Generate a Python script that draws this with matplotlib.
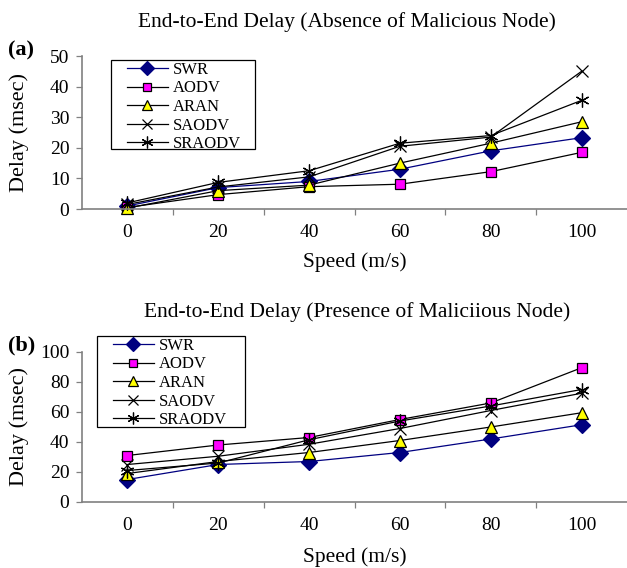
import matplotlib
matplotlib.use("Agg")
import matplotlib.pyplot as plt
from matplotlib.patches import Rectangle
import numpy as np

plt.rcParams['font.family'] = ['Liberation Serif', 'DejaVu Serif']

# datos
velocidades = [0, 20, 40, 60, 80, 100]
protocolos = ['SWR', 'AODV', 'ARAN', 'SAODV', 'SRAODV']

# (a) sin nodo malicioso
swr_a = [1.0, 7.0, 9.0, 13.0, 19.0, 23.3]
aodv_a = [0.5, 4.7, 7.3, 8.1, 12.2, 18.5]
aran_a = [0.3, 6.0, 7.8, 15.0, 21.5, 28.5]
saodv_a = [1.5, 7.2, 10.5, 20.5, 23.5, 45.0]
sraodv_a = [2.0, 8.7, 12.5, 21.5, 24.0, 35.5]

# (b) con nodo malicioso
swr_b = [15.0, 25.0, 27.0, 33.0, 42.0, 51.5]
aodv_b = [31.0, 38.0, 43.0, 55.0, 66.0, 89.5]
aran_b = [19.0, 27.0, 33.0, 41.0, 50.0, 59.5]
saodv_b = [25.0, 30.5, 38.5, 49.0, 61.0, 72.5]
sraodv_b = [21.0, 26.0, 41.5, 54.0, 64.0, 75.0]

estilos = {
    'SWR': dict(color='#000080', marker='D', markersize=8.5, mfc='#000080', mec='#000080'),
    'AODV': dict(color='black', marker='s', markersize=7.5, mfc='#FF00FF', mec='black'),
    'ARAN': dict(color='black', marker='^', markersize=8.5, mfc='#FFFF00', mec='black'),
    'SAODV': dict(color='black', marker='x', markersize=9, mfc='none', mec='black'),
    'SRAODV': dict(color='black', marker=(6, 2, 0), markersize=10, mfc='none', mec='black'),
}

fig = plt.figure(figsize=(6.27, 5.68), dpi=100)
W, H = 627, 568


def caja(x0, y0, x1, y1):
    # convierte pixeles (origen arriba-izquierda) a coordenadas de figura
    return [x0 / W, 1 - y1 / H, (x1 - x0) / W, (y1 - y0) / H]


def dibujar(ax, series, ymax, paso, marco):
    x = np.arange(len(velocidades))
    for nombre, valores in zip(protocolos, series):
        ax.plot(x, valores, lw=0.9, mew=0.9, label=nombre, **estilos[nombre])
    ax.set_xlim(-0.5, len(velocidades) - 0.5)
    ax.set_ylim(0, ymax)
    ax.set_yticks(np.arange(0, ymax + 1, paso))
    ax.set_xticks(x)
    ax.set_xticklabels([str(v) for v in velocidades])
    ax.set_xticks(x[:-1] + 0.5, minor=True)
    ax.tick_params(axis='x', which='major', length=0, pad=11, labelsize=14)
    ax.tick_params(axis='x', which='minor', length=4, width=0.9, color='#808080', direction='out')
    ax.tick_params(axis='y', length=4, width=0.9, color='#808080', direction='out', pad=5, labelsize=14)
    for lado in ['top', 'right']:
        ax.spines[lado].set_visible(False)
    for lado in ['left', 'bottom']:
        ax.spines[lado].set_color('#808080')
        ax.spines[lado].set_linewidth(1.2)
    for l in ax.lines:
        l.set_clip_on(False)

    # leyenda sin marco y un rectangulo propio para el recuadro
    x0, y0, x1, y1 = marco
    ax.legend(loc='upper left', bbox_to_anchor=((x0 + 16) / W, 1 - (y0 + 2) / H),
              bbox_transform=fig.transFigure, fontsize=12, frameon=False,
              borderpad=0, labelspacing=0.15, handlelength=2.45, handletextpad=0.3,
              borderaxespad=0, markerscale=0.85)
    fig.patches.append(Rectangle((x0 / W, 1 - y1 / H), (x1 - x0) / W, (y1 - y0) / H,
                                 transform=fig.transFigure, fill=False,
                                 edgecolor='black', linewidth=0.9))


ax1 = fig.add_axes(caja(82, 56, 627, 209))
dibujar(ax1, [swr_a, aodv_a, aran_a, saodv_a, sraodv_a], 50, 10, (111, 60, 255, 149))

ax2 = fig.add_axes(caja(82, 352, 627, 502))
dibujar(ax2, [swr_b, aodv_b, aran_b, saodv_b, sraodv_b], 100, 20, (97, 336, 245, 427))

# titulos y etiquetas
fig.text(347 / W, 1 - 22 / H, 'End-to-End Delay (Absence of Malicious Node)',
         ha='center', va='center', fontsize=15.5)
fig.text(357 / W, 1 - 312 / H, 'End-to-End Delay (Presence of Maliciious Node)',
         ha='center', va='center', fontsize=15.5)
fig.text(8 / W, 1 - 50 / H, '(a)', ha='left', va='center', fontsize=16, fontweight='bold')
fig.text(8 / W, 1 - 345 / H, '(b)', ha='left', va='center', fontsize=16, fontweight='bold')
fig.text(19 / W, 1 - 132 / H, 'Delay (msec)', ha='center', va='center',
         rotation=90, fontsize=16)
fig.text(19 / W, 1 - 427 / H, 'Delay (msec)', ha='center', va='center',
         rotation=90, fontsize=16)
fig.text(355 / W, 1 - 262 / H, 'Speed (m/s)', ha='center', va='center', fontsize=15.5)
fig.text(355 / W, 1 - 557 / H, 'Speed (m/s)', ha='center', va='center', fontsize=15.5)

fig.savefig('out.png', dpi=100)
